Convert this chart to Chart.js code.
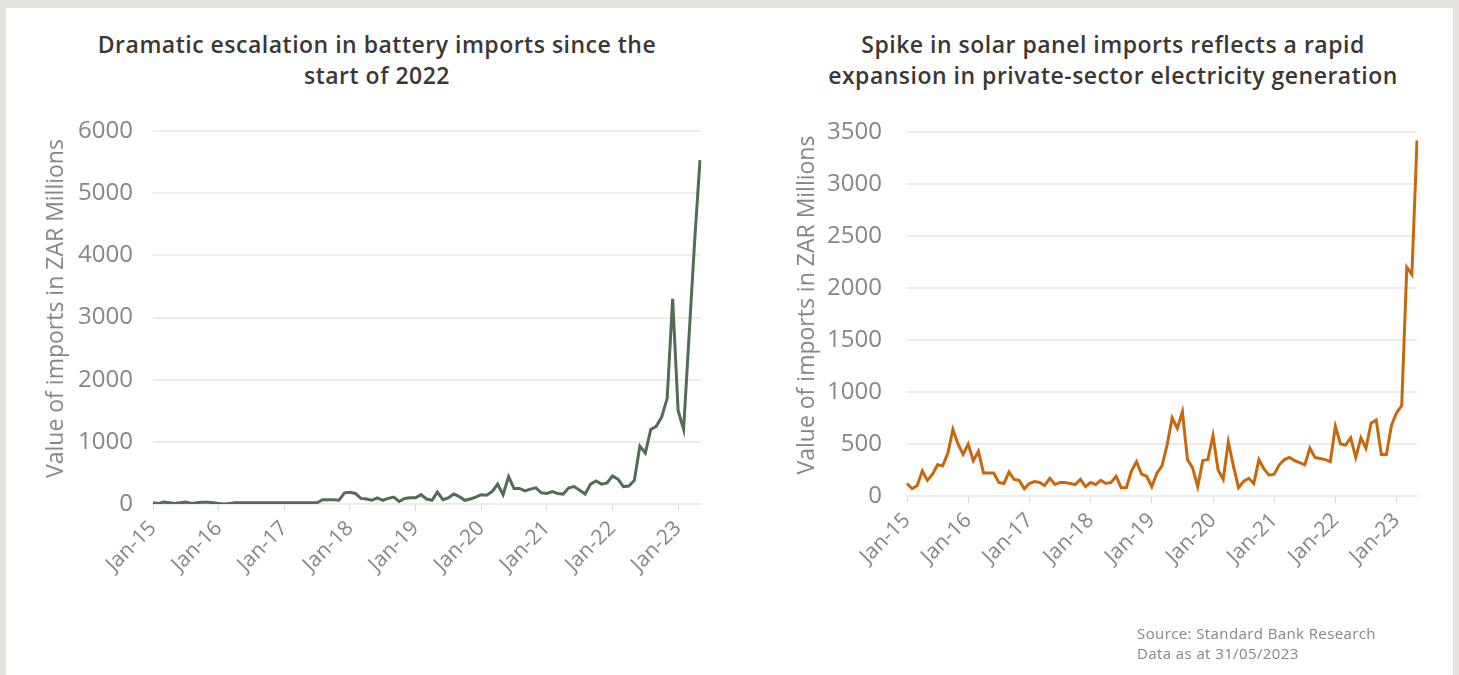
<!DOCTYPE html>
<html>
<head>
<meta charset="utf-8">
<script src="https://cdn.jsdelivr.net/npm/chart.js@4/dist/chart.umd.min.js"></script>
<style>
  html, body { margin: 0; padding: 0; }
  body { width: 1459px; height: 675px; background: #e6e3df; position: relative; overflow: hidden; font-family: "Open Sans", sans-serif; }
  .panel { position: absolute; left: 6px; top: 8px; width: 1447px; height: 667px; background: #fff; }
  .title { position: absolute; top: 29px; width: 720px; text-align: center; font-size: 23px; font-weight: 600; letter-spacing: 0.5px; line-height: 31px; color: #3b3834; }
  .source { position: absolute; left: 1137px; top: 623px; font-size: 15px; letter-spacing: 0.4px; line-height: 20px; color: #8a8580; }
  canvas { position: absolute; top: 0; }
</style>
</head>
<body>
<div class="panel"></div>
<div class="title" style="left:17px">Dramatic escalation in battery imports since the<br>start of 2022</div>
<div class="title" style="left:753px">Spike in solar panel imports reflects a rapid<br>expansion in private-sector electricity generation</div>
<canvas id="battery" width="730" height="675" style="left:0"></canvas>
<canvas id="solar" width="729" height="675" style="left:730px"></canvas>
<div class="source">Source: Standard Bank Research<br>Data as at 31/05/2023</div>
<script>
// monthly, Jan-15 .. May-23
const years = ["15", "16", "17", "18", "19", "20", "21", "22", "23"];
const months = ["Jan", "Feb", "Mar", "Apr", "May", "Jun", "Jul", "Aug", "Sep", "Oct", "Nov", "Dec"];
const lastMonthCount = 5; // data ends May-23

const categories = [];
years.forEach((y, yi) => {
  const n = yi === years.length - 1 ? lastMonthCount : 12;
  for (let m = 0; m < n; m++) categories.push(months[m] + "-" + y);
});

// battery imports, ZAR millions
const batteryImports = [
  20, 10, 30, 20, 10, 20, 30, 10, 20, 30, 30, 20,
  10, 0, 10, 20, 20, 20, 20, 20, 20, 20, 20, 20,
  20, 20, 20, 20, 20, 20, 20, 70, 70, 70, 60, 180,
  190, 170, 90, 80, 60, 100, 60, 90, 110, 40, 90, 100,
  100, 150, 80, 60, 190, 70, 100, 160, 120, 60, 80, 110,
  150, 140, 200, 320, 150, 440, 250, 250, 210, 240, 260, 180,
  170, 200, 170, 160, 260, 280, 220, 160, 320, 370, 320, 340,
  450, 400, 280, 290, 380, 930, 820, 1200, 1250, 1400, 1700, 3300,
  1500, 1200, 2700, 4200, 5530
];

// solar panel imports, ZAR millions
const solarImports = [
  120, 70, 100, 240, 150, 210, 300, 290, 410, 640, 500, 400,
  500, 340, 430, 220, 220, 220, 130, 120, 230, 160, 150, 70,
  120, 140, 130, 100, 170, 110, 130, 130, 120, 110, 160, 90,
  130, 110, 150, 120, 130, 190, 80, 80, 240, 330, 210, 190,
  90, 220, 290, 490, 750, 650, 810, 350, 270, 90, 340, 350,
  580, 250, 160, 520, 290, 80, 140, 170, 120, 350, 260, 200,
  210, 300, 350, 370, 340, 320, 300, 460, 370, 360, 350, 330,
  670, 500, 490, 560, 370, 560, 460, 700, 730, 400, 400, 680,
  800, 870, 2200, 2130, 3420
];

const batteryTicks = { max: 6000, step: 1000 };
const solarTicks = { max: 3500, step: 500 };

const axisGrey = "#8a8580";
const gridGrey = "#efece8";

function makeChart(id, values, color, tickCfg, geo) {
  return new Chart(document.getElementById(id), {
    type: "line",
    data: {
      labels: categories,
      datasets: [{
        data: values,
        borderColor: color,
        borderWidth: 3,
        pointRadius: 0,
        tension: 0,
        fill: false
      }]
    },
    options: {
      responsive: false,
      animation: false,
      layout: { padding: { top: geo.top, right: geo.right, bottom: geo.bottom, left: 0 } },
      plugins: { legend: { display: false }, tooltip: { enabled: false } },
      scales: {
        x: {
          afterFit: s => { s.height = 100; },
          grid: { drawOnChartArea: false, color: "#dedad5", tickLength: 7 },
          border: { color: gridGrey, width: 2 },
          ticks: {
            autoSkip: false,
            maxRotation: 45,
            minRotation: 45,
            padding: 5,
            color: axisGrey,
            font: { family: "Open Sans", size: 21 },
            callback: function (v) {
              const l = this.getLabelForValue(v);
              return l.startsWith("Jan") ? l : null;
            }
          }
        },
        y: {
          min: 0,
          max: tickCfg.max,
          afterFit: s => { s.width = geo.yWidth; },
          grid: { color: gridGrey, lineWidth: 2, drawTicks: false },
          border: { display: false },
          ticks: {
            stepSize: tickCfg.step,
            padding: geo.tickPad,
            color: axisGrey,
            font: { family: "Open Sans", size: 24 },
            callback: v => String(v)
          },
          title: {
            display: true,
            // leading spaces nudge the text up a little, as in the source
            text: "   Value of imports in ZAR Millions",
            color: axisGrey,
            font: { family: "Open Sans", size: 23 },
            padding: { top: geo.titlePad, bottom: 0 }
          }
        }
      }
    }
  });
}

makeChart("battery", batteryImports, "#526d54", batteryTicks,
  { top: 131, right: 30, bottom: 71, yWidth: 153, tickPad: 20, titlePad: 43 });
makeChart("solar", solarImports, "#c8680e", solarTicks,
  { top: 132, right: 42, bottom: 79, yWidth: 177, tickPad: 25, titlePad: 64 });
</script>
</body>
</html>
